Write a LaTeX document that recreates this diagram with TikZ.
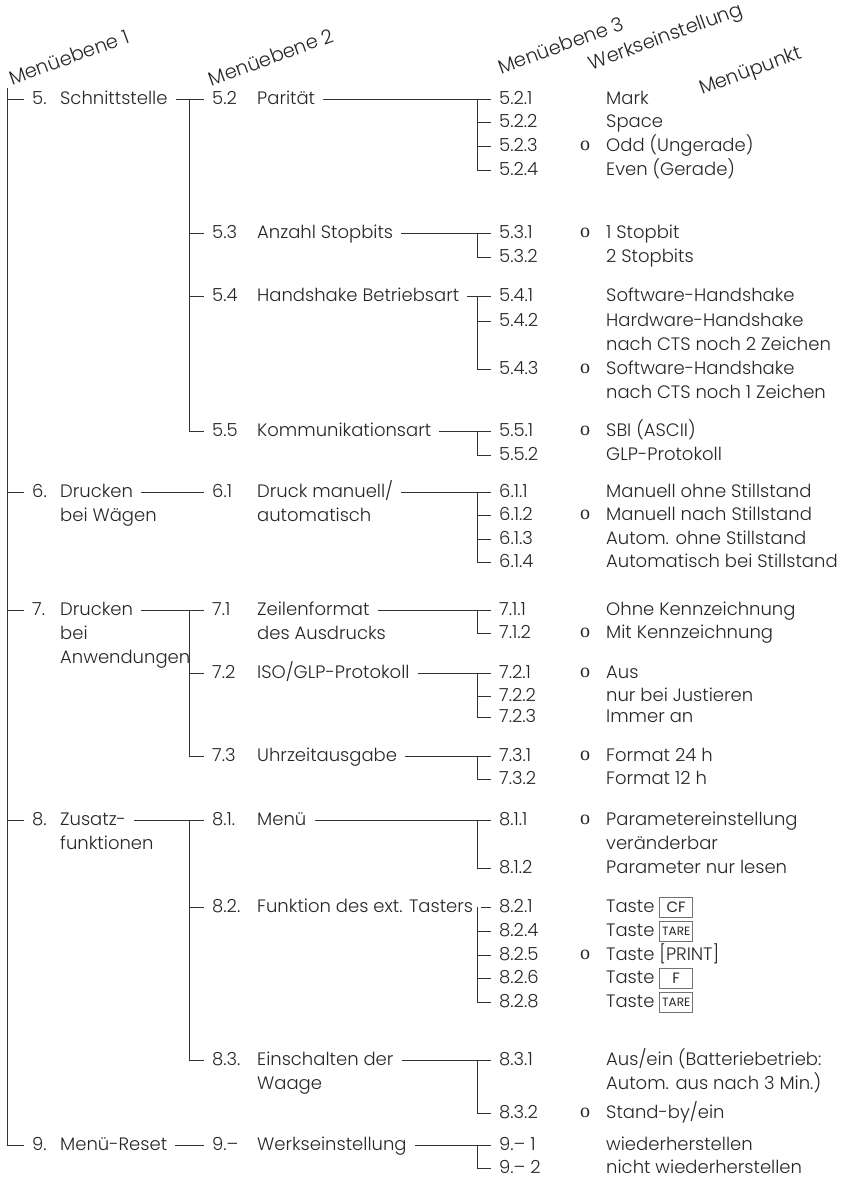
\documentclass[tikz,border=0pt]{standalone}
\usepackage{fontspec}
\setmainfont{Poppins Light}
\newfontfamily\markfont{Liberation Serif}
\newfontfamily\keyfont{Poppins}
\usetikzlibrary{positioning}

\newcommand\taste[2][15]{\raisebox{-4.5pt}{\setlength\fboxsep{0pt}\setlength\fboxrule{0.8pt}%
  \fcolorbox{black!55}{white}{\parbox[b][19.5pt][c]{32pt}{\centering\keyfont\fontsize{#1}{#1}\selectfont #2}}}}

\begin{document}
\begin{tikzpicture}[x=1pt, y=-1pt,
        font=\fontsize{18}{23.5}\selectfont, text=black!85,
        txt/.style={inner xsep=8pt, inner ysep=0pt, text height=17.5pt, text depth=6pt},
        num/.style={txt, anchor=west},
        lbl/.style={txt, anchor=west},
        more/.style={txt, anchor=north west},
        dflt/.style={anchor=west, inner sep=0pt, font=\markfont\fontsize{20}{20}\selectfont},
        kopf/.style={anchor=center, rotate=20, inner sep=0pt, font=\fontsize{19.5}{20}\selectfont},
        ast/.style={draw=black!80, line width=0.9pt}
    ]
    \useasboundingbox (0,0) rectangle (849,1187);
    \coordinate (top1) at (7,88);
    \coordinate (sp2) at (189,0);
    \coordinate (sp3) at (477,0);

    % Kopfzeile
    \node[kopf] (h1) at (69,57) {Menüebene 1};
    \node[kopf] (h2) at (271,57) {Menüebene 2};
    \node[kopf] (h3) at (561,45) {Menüebene 3};
    \node[kopf] (h4) at (666,38) {Werkseinstellung};
    \node[kopf] (h5) at (751,72) {Menüpunkt};

    % Menuebene 1
    \node[num] (n5) at (24,99) {5.};  \node[lbl] (l5) at (52,99) {Schnittstelle};
    \node[num] (n6) at (24,492) {6.}; \node[lbl] (l6) at (52,492) {Drucken};
    \node[more] (l6b) at (l6.south west) {bei Wägen};
    \node[num] (n7) at (24,610) {7.}; \node[lbl] (l7) at (52,610) {Drucken};
    \node[more] (l7b) at (l7.south west) {bei};
    \node[more] (l7c) at (l7b.south west) {Anwendungen};
    \node[num] (n8) at (24,820) {8.}; \node[lbl] (l8) at (52,820) {Zusatz-};
    \node[more] (l8b) at (l8.south west) {funktionen};
    \node[num] (n9) at (24,1145) {9.}; \node[lbl] (l9) at (52,1145) {Menü-Reset};

    % Menuebene 2
    \node[num] (n52) at (204,99) {5.2};   \node[lbl] (l52) at (249,99) {Parität};
    \node[num] (n53) at (204,233) {5.3};  \node[lbl] (l53) at (249,233) {Anzahl Stopbits};
    \node[num] (n54) at (204,296) {5.4};  \node[lbl] (l54) at (249,296) {Handshake Betriebsart};
    \node[num] (n55) at (204,431) {5.5};  \node[lbl] (l55) at (249,431) {Kommunikationsart};
    \node[num] (n61) at (204,492) {6.1};  \node[lbl] (l61) at (249,492) {Druck manuell/};
    \node[more] (l61b) at (l61.south west) {automatisch};
    \node[num] (n71) at (204,610) {7.1};  \node[lbl] (l71) at (249,610) {Zeilenformat};
    \node[more] (l71b) at (l71.south west) {des Ausdrucks};
    \node[num] (n72) at (204,673) {7.2};  \node[lbl] (l72) at (249,673) {ISO/GLP-Protokoll};
    \node[num] (n73) at (204,756) {7.3};  \node[lbl] (l73) at (249,756) {Uhrzeitausgabe};
    \node[num] (n81) at (204,820) {8.1.}; \node[lbl] (l81) at (249,820) {Menü};
    \node[num] (n82) at (204,907) {8.2.}; \node[lbl] (l82) at (249,907) {Funktion des ext. Tasters};
    \node[num] (n83) at (204,1060) {8.3.}; \node[lbl] (l83) at (249,1060) {Einschalten der};
    \node[more] (l83b) at (l83.south west) {Waage};
    \node[num] (n91) at (204,1145) {9.–}; \node[lbl] (l91) at (249,1145) {Werkseinstellung};

    % Menuebene 3 + Menuepunkt
    \node[num] (m521) at (491,99) {5.2.1};  \node[lbl] (d521) at (598,99) {Mark};
    \node[num] (m522) at (491,122) {5.2.2}; \node[lbl] (d522) at (598,122) {Space};
    \node[num] (m523) at (491,146) {5.2.3}; \node[lbl] (d523) at (598,146) {Odd (Ungerade)};
    \node[num] (m524) at (491,170) {5.2.4}; \node[lbl] (d524) at (598,170) {Even (Gerade)};
    \node[num] (m531) at (491,233) {5.3.1}; \node[lbl] (d531) at (598,233) {1 Stopbit};
    \node[num] (m532) at (491,257) {5.3.2}; \node[lbl] (d532) at (598,257) {2 Stopbits};
    \node[num] (m541) at (491,296) {5.4.1}; \node[lbl] (d541) at (598,296) {Software-Handshake};
    \node[num] (m542) at (491,321) {5.4.2}; \node[lbl] (d542) at (598,321) {Hardware-Handshake};
    \node[more] (d542b) at (d542.south west) {nach CTS noch 2 Zeichen};
    \node[num] (m543) at (491,369) {5.4.3}; \node[lbl] (d543) at (598,369) {Software-Handshake};
    \node[more] (d543b) at (d543.south west) {nach CTS noch 1 Zeichen};
    \node[num] (m551) at (491,431) {5.5.1}; \node[lbl] (d551) at (598,431) {SBI (ASCII)};
    \node[num] (m552) at (491,455) {5.5.2}; \node[lbl] (d552) at (598,455) {GLP-Protokoll};
    \node[num] (m611) at (491,492) {6.1.1}; \node[lbl] (d611) at (598,492) {Manuell ohne Stillstand};
    \node[num] (m612) at (491,515) {6.1.2}; \node[lbl] (d612) at (598,515) {Manuell nach Stillstand};
    \node[num] (m613) at (491,539) {6.1.3}; \node[lbl] (d613) at (598,539) {Autom. ohne Stillstand};
    \node[num] (m614) at (491,562) {6.1.4}; \node[lbl] (d614) at (598,562) {Automatisch bei Stillstand};
    \node[num] (m711) at (491,610) {7.1.1}; \node[lbl] (d711) at (598,610) {Ohne Kennzeichnung};
    \node[num] (m712) at (491,633) {7.1.2}; \node[lbl] (d712) at (598,633) {Mit Kennzeichnung};
    \node[num] (m721) at (491,673) {7.2.1}; \node[lbl] (d721) at (598,673) {Aus};
    \node[num] (m722) at (491,696) {7.2.2}; \node[lbl] (d722) at (598,696) {nur bei Justieren};
    \node[num] (m723) at (491,717) {7.2.3}; \node[lbl] (d723) at (598,717) {Immer an};
    \node[num] (m731) at (491,756) {7.3.1}; \node[lbl] (d731) at (598,756) {Format 24 h};
    \node[num] (m732) at (491,779) {7.3.2}; \node[lbl] (d732) at (598,779) {Format 12 h};
    \node[num] (m811) at (491,820) {8.1.1}; \node[lbl] (d811) at (598,820) {Parametereinstellung};
    \node[more] (d811b) at (d811.south west) {veränderbar};
    \node[num] (m812) at (491,868) {8.1.2}; \node[lbl] (d812) at (598,868) {Parameter nur lesen};
    \node[num] (m821) at (491,907) {8.2.1}; \node[lbl] (d821) at (598,907) {Taste \taste{CF}};
    \node[num] (m824) at (491,931) {8.2.4}; \node[lbl] (d824) at (598,931) {Taste \taste[12]{TARE}};
    \node[num] (m825) at (491,955) {8.2.5}; \node[lbl] (d825) at (598,955) {Taste [PRINT]};
    \node[num] (m826) at (491,978) {8.2.6}; \node[lbl] (d826) at (598,978) {Taste \taste{F}};
    \node[num] (m828) at (491,1002) {8.2.8}; \node[lbl] (d828) at (598,1002) {Taste \taste[12]{TARE}};
    \node[num] (m831) at (491,1060) {8.3.1}; \node[lbl] (d831) at (598,1060) {Aus/ein (Batteriebetrieb:};
    \node[more] (d831b) at (d831.south west) {Autom. aus nach 3 Min.)};
    \node[num] (m832) at (491,1113) {8.3.2}; \node[lbl] (d832) at (598,1113) {Stand-by/ein};
    \node[num] (m911) at (491,1145) {9.– 1}; \node[lbl] (d911) at (598,1145) {wiederherstellen};
    \node[num] (m912) at (491,1168) {9.– 2}; \node[lbl] (d912) at (598,1168) {nicht wiederherstellen};

    % Werkseinstellung
    \node[dflt] (o523) at (580,146) {o};
    \node[dflt] (o531) at (580,233) {o};
    \node[dflt] (o543) at (580,369) {o};
    \node[dflt] (o551) at (580,431) {o};
    \node[dflt] (o612) at (580,515) {o};
    \node[dflt] (o712) at (580,633) {o};
    \node[dflt] (o721) at (580,673) {o};
    \node[dflt] (o731) at (580,756) {o};
    \node[dflt] (o811) at (580,820) {o};
    \node[dflt] (o825) at (580,955) {o};
    \node[dflt] (o832) at (580,1113) {o};

    % Baumlinien
    \draw[ast] (top1) |- (n9.west);
    \draw[ast] (n5.west -| top1) -- (n5.west); \draw[ast] (n6.west -| top1) -- (n6.west);
    \draw[ast] (n7.west -| top1) -- (n7.west); \draw[ast] (n8.west -| top1) -- (n8.west);
    \draw[ast] (l5.east) -- (n52.west); \draw[ast] (l6.east) -- (n61.west);
    \draw[ast] (l7.east) -- (n71.west); \draw[ast] (l8.east) -- (n81.west);
    \draw[ast] (l9.east) -- (n91.west);
    \draw[ast] (n52.west -| sp2) |- (n55.west);
    \draw[ast] (n53.west -| sp2) -- (n53.west); \draw[ast] (n54.west -| sp2) -- (n54.west);
    \draw[ast] (n71.west -| sp2) |- (n73.west); \draw[ast] (n72.west -| sp2) -- (n72.west);
    \draw[ast] (n81.west -| sp2) |- (n83.west); \draw[ast] (n82.west -| sp2) -- (n82.west);
    \draw[ast] (l52.east) -- (m521.west); \draw[ast] (l53.east) -- (m531.west);
    \draw[ast] (l54.east) -- (m541.west); \draw[ast] (l55.east) -- (m551.west);
    \draw[ast] (l61.east) -- (m611.west); \draw[ast] (l71.east) -- (m711.west);
    \draw[ast] (l72.east) -- (m721.west); \draw[ast] (l73.east) -- (m731.west);
    \draw[ast] (l81.east) -- (m811.west); \draw[ast] (l82.east) -- (m821.west);
    \draw[ast] (l83.east) -- (m831.west); \draw[ast] (l91.east) -- (m911.west);
    \draw[ast] (m521.west -| sp3) |- (m524.west);
    \draw[ast] (m522.west -| sp3) -- (m522.west); \draw[ast] (m523.west -| sp3) -- (m523.west);
    \draw[ast] (m531.west -| sp3) |- (m532.west);
    \draw[ast] (m541.west -| sp3) |- (m543.west); \draw[ast] (m542.west -| sp3) -- (m542.west);
    \draw[ast] (m551.west -| sp3) |- (m552.west);
    \draw[ast] (m611.west -| sp3) |- (m614.west);
    \draw[ast] (m612.west -| sp3) -- (m612.west); \draw[ast] (m613.west -| sp3) -- (m613.west);
    \draw[ast] (m711.west -| sp3) |- (m712.west);
    \draw[ast] (m721.west -| sp3) |- (m723.west); \draw[ast] (m722.west -| sp3) -- (m722.west);
    \draw[ast] (m731.west -| sp3) |- (m732.west);
    \draw[ast] (m811.west -| sp3) |- (m812.west);
    \draw[ast] (m821.west -| sp3) |- (m828.west);
    \draw[ast] (m824.west -| sp3) -- (m824.west); \draw[ast] (m825.west -| sp3) -- (m825.west);
    \draw[ast] (m826.west -| sp3) -- (m826.west);
    \draw[ast] (m831.west -| sp3) |- (m832.west);
    \draw[ast] (m911.west -| sp3) |- (m912.west);
\end{tikzpicture}
\end{document}
